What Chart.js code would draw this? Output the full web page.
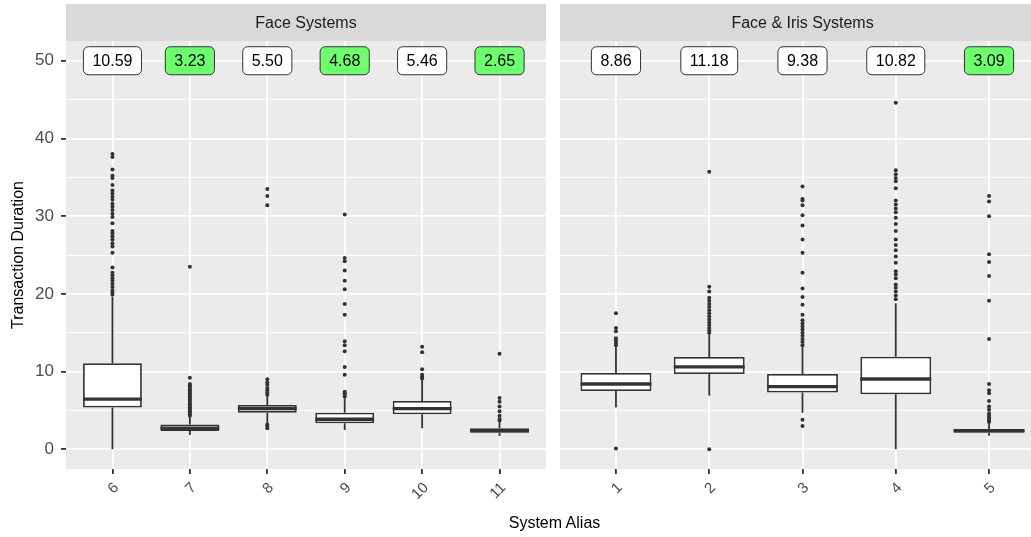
<!DOCTYPE html>
<html>
<head>
<meta charset="utf-8">
<script src="https://cdn.jsdelivr.net/npm/chart.js@4.4.1/dist/chart.umd.min.js"></script>
<style>
    html, body { margin: 0; padding: 0; background: #fff; overflow: hidden; }
    #wrap { position: relative; width: 1031px; height: 537px; overflow: hidden; }
    #c1 { position: absolute; left: 0; top: 0; }
    #c2 { position: absolute; left: 555px; top: 0; }
    #xtitle {
        position: absolute; left: 0; width: 1109px; top: 514px; text-align: center;
        font: 16px "Liberation Sans", Arial, sans-serif; color: #000;
    }
</style>
</head>
<body>
<div id="wrap">
    <canvas id="c1" width="550" height="537"></canvas>
    <canvas id="c2" width="500" height="537"></canvas>
    <div id="xtitle">System Alias</div>
</div>
<script>
const FONT = '"Liberation Sans", Arial, sans-serif';

// Face Systems panel
const faceSystems = ['6', '7', '8', '9', '10', '11'];
const faceMeans = [10.59, 3.23, 5.50, 4.68, 5.46, 2.65];
const faceFast = [false, true, false, true, false, true];
const faceLow = [0, 1.84, 3.35, 2.48, 2.7, 1.71];
const faceQ1 = [5.36, 2.36, 4.71, 3.35, 4.5, 2.14];
const faceMedian = [6.45, 2.72, 5.23, 3.86, 5.23, 2.4];
const faceQ3 = [11.07, 3.2, 5.7, 4.71, 6.22, 2.7];
const faceHigh = [19.6, 4.2, 6.86, 6.56, 8.9, 3.55];
const faceOutliers = [
    [19.9, 20.2, 20.5, 20.9, 21.3, 21.7, 22.0, 22.4, 22.7, 23.4, 25.3, 26.1, 26.5, 27.0, 27.4, 27.8, 28.1,
        29.1, 29.9, 30.3, 30.8, 31.2, 31.6, 32.1, 32.5, 32.9, 33.3, 34.0, 34.9, 35.2, 36.0, 37.6, 38.0],
    [4.3, 4.5, 4.7, 4.9, 5.1, 5.2, 5.4, 5.6, 5.8, 6.0, 6.2, 6.4, 6.6, 6.8, 7.0, 7.2, 7.4, 7.6, 7.8, 8.0,
        8.2, 8.4, 9.2, 23.5],
    [2.7, 3.0, 3.2, 7.0, 7.3, 7.6, 7.9, 8.3, 8.6, 9.0, 31.4, 32.6, 33.5],
    [6.8, 7.0, 7.2, 7.4, 9.6, 10.6, 12.6, 13.4, 13.9, 17.3, 18.7, 20.6, 21.7, 23.0, 24.2, 24.6, 30.2],
    [9.1, 9.3, 9.6, 10.3, 12.5, 13.2],
    [3.7, 3.9, 4.3, 4.9, 5.5, 6.1, 6.6, 12.3],
];

// Face & Iris Systems panel
const irisSystems = ['1', '2', '3', '4', '5'];
const irisMeans = [8.86, 11.18, 9.38, 10.82, 3.09];
const irisFast = [false, false, false, false, true];
const irisLow = [5.36, 6.9, 4.71, 0, 1.75];
const irisQ1 = [7.5, 9.69, 7.29, 7.07, 2.14];
const irisMedian = [8.4, 10.6, 8.06, 9.05, 2.4];
const irisQ3 = [9.82, 11.88, 9.69, 11.92, 2.61];
const irisHigh = [13.2, 14.9, 13.2, 18.8, 3.35];
const irisOutliers = [
    [0.1, 13.4, 13.7, 14.0, 14.3, 15.2, 15.6, 17.5],
    [0.0, 15.0, 15.3, 15.6, 16.0, 16.3, 16.7, 17.1, 17.5, 17.9, 18.3, 18.7, 19.1, 19.5, 20.3, 20.9, 35.7],
    [3.0, 3.8, 13.4, 13.8, 14.2, 14.6, 15.0, 15.4, 15.8, 16.2, 16.6, 17.3, 18.6, 19.6, 20.7, 22.7, 25.3,
        27.0, 28.8, 30.1, 31.4, 32.0, 32.2, 33.8],
    [19.3, 19.8, 20.3, 20.8, 21.2, 22.0, 22.5, 22.9, 24.0, 24.8, 25.6, 26.3, 27.0, 28.1, 29.0, 29.8, 30.5,
        31.0, 31.5, 32.0, 33.6, 34.5, 34.9, 35.4, 35.9, 44.6],
    [3.5, 3.7, 3.9, 4.1, 4.3, 4.6, 5.1, 5.5, 6.2, 7.2, 7.6, 8.4, 14.2, 19.1, 22.3, 24.1, 25.1, 30.0, 31.9, 32.6],
];

const yTicks = [0, 5, 10, 15, 20, 25, 30, 35, 40, 45, 50];
const labelLevel = 50;

const isMajor = (ctx) => ctx.tick && ctx.tick.value % 10 === 0;

// strip, panel background, whiskers, medians and mean labels
const boxPlugin = {
    id: 'boxPanel',
    beforeDraw(chart, args, o) {
        const { ctx, chartArea: a } = chart;
        ctx.save();
        ctx.fillStyle = '#EBEBEB';
        ctx.fillRect(a.left, a.top, a.right - a.left, a.bottom - a.top);
        ctx.fillStyle = '#D9D9D9';
        ctx.fillRect(a.left, 4, a.right - a.left, a.top - 4);
        ctx.fillStyle = '#1A1A1A';
        ctx.font = '16px ' + FONT;
        ctx.textAlign = 'center';
        ctx.textBaseline = 'middle';
        ctx.fillText(o.title, (a.left + a.right) / 2, (4 + a.top) / 2 + 1);
        ctx.restore();
    },
    beforeDatasetsDraw(chart, args, o) {
        const { ctx, scales: { x, y } } = chart;
        ctx.save();
        ctx.strokeStyle = '#333333';
        ctx.lineWidth = 1.8;
        o.q1.forEach((q, i) => {
            const px = x.getPixelForValue(i);
            ctx.beginPath();
            ctx.moveTo(px, y.getPixelForValue(o.q3[i]));
            ctx.lineTo(px, y.getPixelForValue(o.high[i]));
            ctx.moveTo(px, y.getPixelForValue(q));
            ctx.lineTo(px, y.getPixelForValue(o.low[i]));
            ctx.stroke();
        });
        ctx.restore();
    },
    afterDatasetsDraw(chart, args, o) {
        const { ctx, scales: { x, y } } = chart;
        const bars = chart.getDatasetMeta(0).data;
        ctx.save();
        ctx.strokeStyle = '#333333';
        ctx.lineWidth = 3.4;
        o.median.forEach((m, i) => {
            const px = x.getPixelForValue(i);
            const half = bars[i].width / 2;
            const py = y.getPixelForValue(m);
            ctx.beginPath();
            ctx.moveTo(px - half, py);
            ctx.lineTo(px + half, py);
            ctx.stroke();
        });

        ctx.font = '16px ' + FONT;
        ctx.textAlign = 'center';
        ctx.textBaseline = 'middle';
        ctx.lineWidth = 1;
        const py = y.getPixelForValue(labelLevel);
        o.means.forEach((m, i) => {
            const txt = m.toFixed(2);
            const px = x.getPixelForValue(i);
            const w = ctx.measureText(txt).width + 18;
            const h = 28;
            ctx.beginPath();
            ctx.roundRect(px - w / 2, py - h / 2, w, h, 5);
            ctx.fillStyle = o.fast[i] ? '#6EFF6E' : '#FFFFFF';
            ctx.fill();
            ctx.strokeStyle = '#333333';
            ctx.stroke();
            ctx.fillStyle = '#000';
            ctx.fillText(txt, px, py + 1);
        });
        ctx.restore();
    }
};

function makePanel(canvas, cfg) {
    const cats = cfg.cats;
    return new Chart(canvas, {
        data: {
            datasets: [
                {
                    type: 'bar',
                    data: cfg.q1.map((v, i) => ({ x: i, y: [v, cfg.q3[i]] })),
                    backgroundColor: '#FFFFFF',
                    borderColor: '#333333',
                    borderWidth: 1.8,
                    borderSkipped: false,
                    barPercentage: 0.76,
                    categoryPercentage: 1,
                },
                {
                    type: 'scatter',
                    data: cfg.outliers.flatMap((list, i) => list.map(v => ({ x: i, y: v }))),
                    pointRadius: 2,
                    pointBackgroundColor: '#333333',
                    pointBorderWidth: 0,
                }
            ]
        },
        options: {
            responsive: false,
            animation: false,
            layout: { padding: cfg.padding },
            plugins: {
                legend: { display: false },
                tooltip: { enabled: false },
                boxPanel: {
                    title: cfg.title,
                    q1: cfg.q1, q3: cfg.q3, low: cfg.low, high: cfg.high,
                    median: cfg.median, means: cfg.means, fast: cfg.fast,
                },
            },
            scales: {
                x: {
                    type: 'linear',
                    offset: false,
                    min: -0.6,
                    max: cats.length - 0.4,
                    afterBuildTicks: (s) => { s.ticks = cats.map((c, i) => ({ value: i })); },
                    afterFit: (s) => { s.height = 68; },
                    ticks: {
                        autoSkip: false,
                        callback: (v) => cats[v],
                        minRotation: 45,
                        maxRotation: 45,
                        color: '#4D4D4D',
                        font: { family: FONT, size: 15 },
                        padding: 5,
                        labelOffset: 4,
                    },
                    grid: { offset: false, color: '#FFFFFF', lineWidth: 1.8, tickColor: '#333333', tickLength: 5 },
                    border: { display: false },
                },
                y: {
                    min: -2.54,
                    max: 52.54,
                    afterBuildTicks: (s) => { s.ticks = yTicks.map(v => ({ value: v })); },
                    afterFit: (s) => { s.width = cfg.yWidth; },
                    ticks: {
                        display: cfg.showY,
                        callback: (v) => (v % 10 === 0 ? String(v) : ''),
                        color: '#4D4D4D',
                        font: { family: FONT, size: 17 },
                        padding: 7,
                    },
                    grid: {
                        color: '#FFFFFF',
                        lineWidth: (c) => (isMajor(c) ? 1.8 : 0.9),
                        tickColor: (c) => (isMajor(c) ? '#333333' : 'rgba(0,0,0,0)'),
                        tickLength: cfg.showY ? 5 : 0,
                        drawTicks: cfg.showY,
                    },
                    border: { display: false },
                    title: {
                        display: cfg.showY,
                        text: 'Transaction Duration',
                        color: '#000',
                        font: { family: FONT, size: 16 },
                        padding: { top: 9, bottom: 0 },
                    },
                },
            },
        },
        plugins: [boxPlugin],
    });
}

makePanel(document.getElementById('c1'), {
    title: 'Face Systems',
    cats: faceSystems, means: faceMeans, fast: faceFast,
    low: faceLow, q1: faceQ1, median: faceMedian, q3: faceQ3, high: faceHigh, outliers: faceOutliers,
    padding: { top: 41, right: 2, left: 0, bottom: 0 },
    yWidth: 66,
    showY: true,
});

makePanel(document.getElementById('c2'), {
    title: 'Face & Iris Systems',
    cats: irisSystems, means: irisMeans, fast: irisFast,
    low: irisLow, q1: irisQ1, median: irisMedian, q3: irisQ3, high: irisHigh, outliers: irisOutliers,
    padding: { top: 41, right: 10, left: 5, bottom: 0 },
    yWidth: 0,
    showY: false,
});
</script>
</body>
</html>
